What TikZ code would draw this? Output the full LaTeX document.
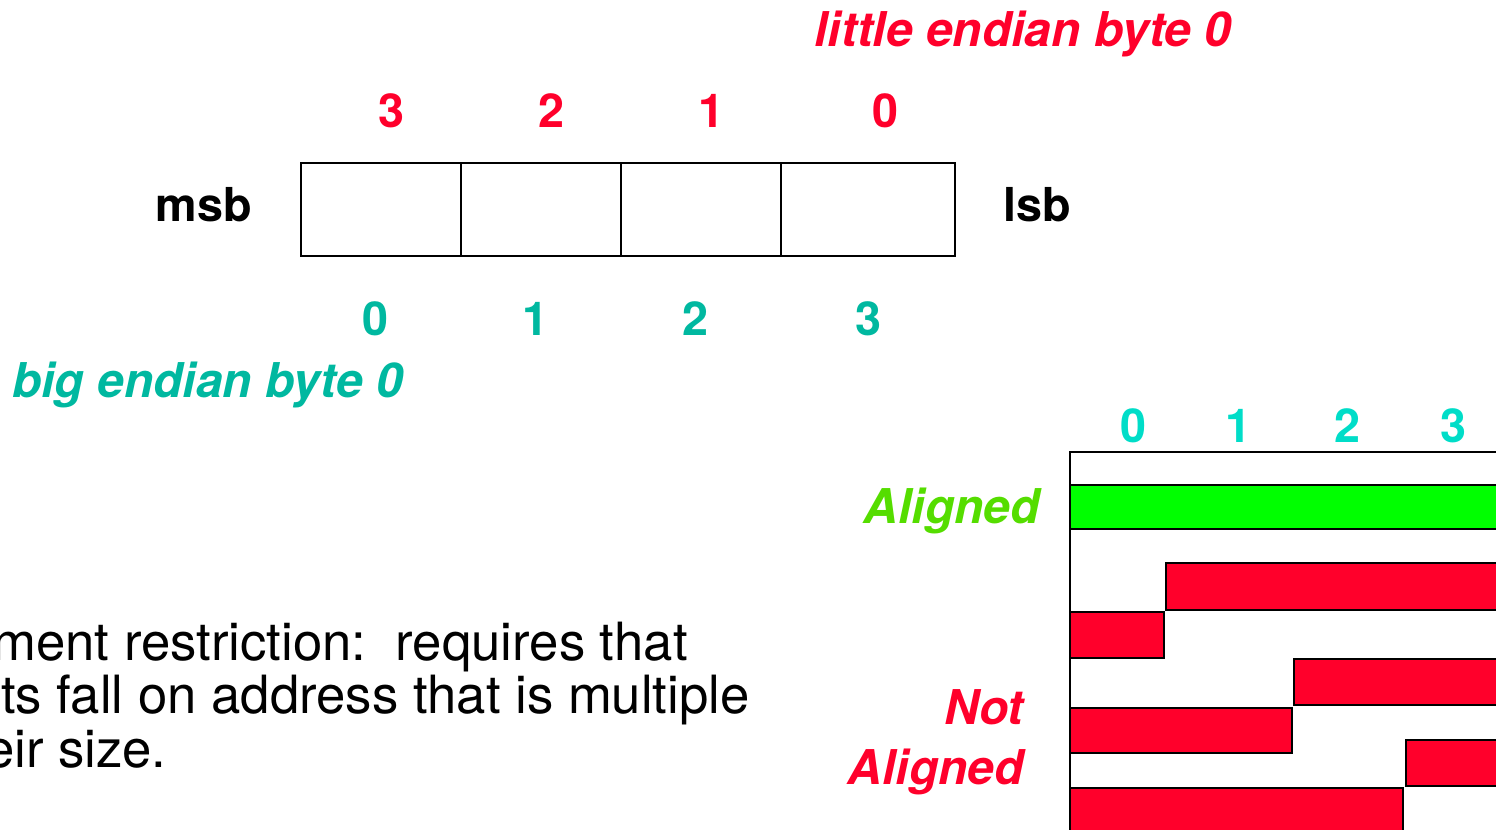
\documentclass[tikz,border=0pt]{standalone}
\usepackage{fontspec}
\setmainfont{TeX Gyre Heros}
\definecolor{endred}{RGB}{255,0,43}
\definecolor{bigteal}{RGB}{0,184,160}
\definecolor{colcyan}{RGB}{0,221,200}
\definecolor{okgreen}{RGB}{85,221,0}
\definecolor{bargreen}{RGB}{0,255,0}
\begin{document}
\begin{tikzpicture}[x=0.02cm,y=-0.02cm,
  lbl/.style={font=\fontsize{26.6}{32}\bfseries\selectfont,inner sep=0pt},
  slant/.style={font=\fontsize{27.3}{34}\bfseries\itshape\selectfont,inner sep=0pt},
  body/.style={font=\fontsize{30}{31}\selectfont,inner sep=0pt,anchor=base east},
  bar/.style={draw=black,line width=1.2pt}]
\useasboundingbox (0,0) rectangle (1496,830);
\clip (0,0) rectangle (1496,830);
% the word, four bytes
\draw[line width=1.1pt] (301,163) rectangle (955,256);
\foreach \x in {461,621,781} \draw[line width=1.1pt] (\x,163) -- (\x,256);
\foreach \n/\x in {3/391,2/551,1/711,0/885} \node[lbl,endred,anchor=base] (le\n) at (\x,128) {\n};
\foreach \n/\x in {0/375,1/535,2/695,3/868} \node[lbl,bigteal,anchor=base] (be\n) at (\x,336) {\n};
\node[lbl,anchor=base] (msb) at (204,222) {msb};
\node[lbl,anchor=base] (lsb) at (1037,222) {lsb};
\node[slant,endred,anchor=base west] (letitle) at (814,47) {little endian byte 0};
\node[slant,bigteal,anchor=base west] (betitle) at (12,398) {big endian byte 0};
% alignment rows
\draw[line width=1.1pt] (1070,840) -- (1070,452) -- (1510,452);
\foreach \n/\x in {0/1133,1/1238,2/1347,3/1453} \node[lbl,colcyan,anchor=base] (col\n) at (\x,443) {\n};
\draw[bar,fill=bargreen] (1070,485) rectangle (1510,529);
\foreach \xa/\ya/\xb/\yb in {1166/563/1510/610,1070/612/1164/658,1294/659/1510/705,
  1070/708/1292/753,1406/740/1510/786,1070/788/1403/840}
  \draw[bar,fill=endred] (\xa,\ya) rectangle (\xb,\yb);
\node[slant,okgreen,anchor=base east] (ok) at (1040,523) {Aligned};
\node[slant,endred,align=right,anchor=east] (notok) at (1024,742) {Not\\Aligned};
% restriction text
\node[body] (rule1) at (688,660) {ment restriction:\ \ requires that};
\node[body] (rule2) at (750,713) {ts fall on address that is multiple};
\node[body] (rule3) at (167,767) {eir size.};
\end{tikzpicture}
\end{document}
